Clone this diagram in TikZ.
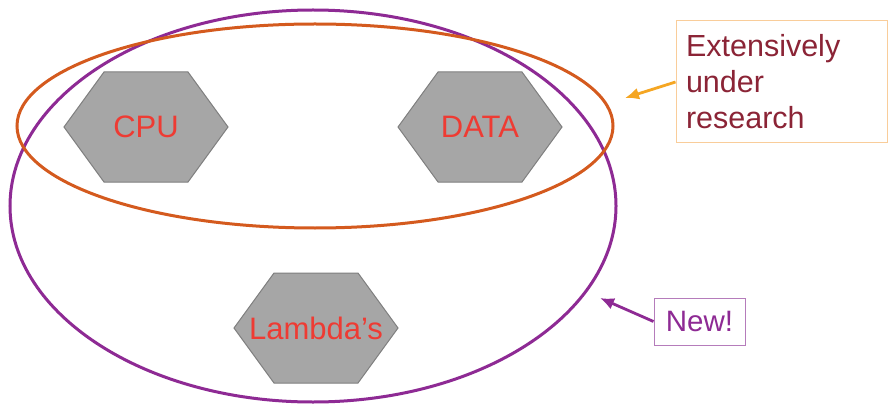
\documentclass[tikz,border=0pt]{standalone}
\usepackage{fontspec}
\setmainfont{Liberation Sans}
\usetikzlibrary{arrows.meta}
\definecolor{hexfill}{HTML}{A6A6A6}
\definecolor{hexline}{HTML}{7F7F7F}
\definecolor{hextext}{HTML}{EE3B33}
\definecolor{purp}{HTML}{8E2A94}
\definecolor{orng}{HTML}{D45A1E}
\definecolor{arrorng}{HTML}{F5A623}
\definecolor{boxorng}{HTML}{F9CD9A}
\definecolor{darkred}{HTML}{8B2436}
\definecolor{boxpurp}{HTML}{B57CBB}
\tikzset{
  hexshape/.style={fill=hexfill, draw=hexline, line width=1pt},
  hexlabel/.style={text=hextext, font=\fontsize{31}{36}\selectfont, inner sep=0pt},
  ring/.style={line width=3pt},
  callout/.style={line width=2.8pt, -{Latex[length=14pt,width=12pt]}},
}
\newcommand\myhex[3]{%
  \draw[hexshape, shift={(#2)}] (-82,0) -- (-42,-55) -- (42,-55) -- (82,0) -- (42,55) -- (-42,55) -- cycle;
  \node[hexlabel] (#1) at (#2) {#3};}
\begin{document}
\begin{tikzpicture}[x=1pt,y=-1pt]
\useasboundingbox (0,0) rectangle (893,406);
\fill[white] (0,0) rectangle (893,406);
\myhex{cpu}{146,127}{CPU}
\myhex{data}{480,127}{DATA}
\myhex{lambda}{316,328}{Lambda's}
\draw[ring, draw=purp] (313,206) ellipse [x radius=303, y radius=196];
\draw[ring, draw=orng] (315,126) ellipse [x radius=298, y radius=102];
\node[draw=boxorng, line width=1pt, text=darkred, font=\fontsize{30.5}{36}\selectfont,
      text width=191pt, align=left, inner xsep=10pt, inner ysep=0pt,
      minimum height=122pt] (ext) at (781.5,82) {Extensively\\under\\research};
\node[draw=boxpurp, line width=1pt, text=purp, font=\fontsize{29.5}{34}\selectfont,
      minimum width=91pt, minimum height=47pt, inner sep=0pt] (new) at (699.5,321.5) {New!};
\coordinate (otip) at (625,98);
\coordinate (ptip) at (600,298);
\draw[callout, draw=arrorng] (ext.west) -- (otip);
\draw[callout, draw=purp] (new.west) -- (ptip);
\end{tikzpicture}
\end{document}
